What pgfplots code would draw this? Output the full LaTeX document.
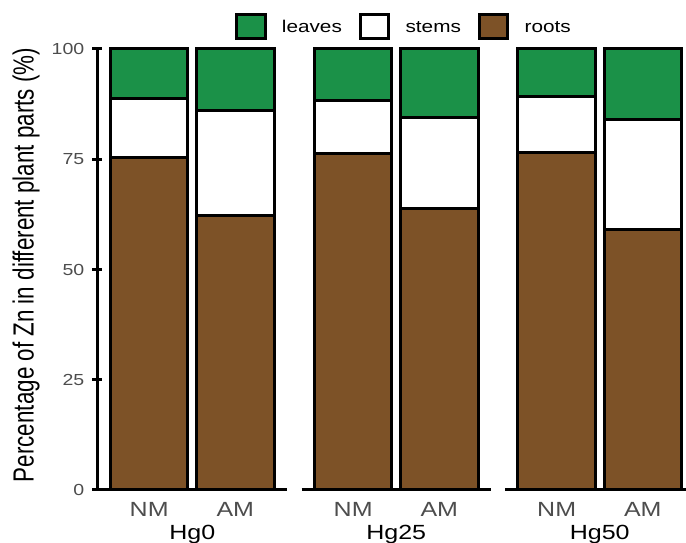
\documentclass[border=0pt]{standalone}
\usepackage{fontspec}
\setmainfont{Liberation Sans}
\newfontfamily\hfont[FakeStretch=1.22]{Liberation Sans}
\usepackage{pgfplots}
\pgfplotsset{compat=1.18}
\definecolor{leafg}{RGB}{27,145,72}
\definecolor{rootb}{RGB}{125,82,39}
\definecolor{tickgray}{RGB}{77,77,77}
\pgfplotsset{
  panel/.style={
    scale only axis, width=189.5pt, height=441pt,
    anchor=south west,
    ybar stacked, bar width=0.9,
    xmin=0.4, xmax=2.6, ymin=0, ymax=100,
    clip=false,
    xtick={1,2}, xticklabels={NM,AM},
    xtick style={draw=none},
    axis x line=bottom,
    tick align=outside, major tick length=10pt,
    ytick style={line width=3pt, black},
    every major tick/.append style={line width=3pt},
    xticklabel style={font=\hfont\fontsize{20.5}{20.5}\selectfont, text=tickgray, anchor=base, inner sep=0pt, yshift=-16.5pt},
    yticklabel style={font=\hfont\fontsize{16}{16}\selectfont, text=tickgray, anchor=east, inner sep=0pt},
    yticklabel shift=8pt,
    /pgf/number format/assume math mode=true,
    xlabel style={font=\hfont\fontsize{20.5}{20.5}\selectfont, at={(axis description cs:0.5,-0.1118)}, anchor=base, inner sep=0pt},
  },
  nolefty/.style={axis y line=none, ytick=\empty, linestyle},
  lefty/.style={axis y line=left, ytick={0,25,50,75,100}, linestyle},
  linestyle/.style={
    axis line style={line width=3pt,-},
    x axis line style={line width=3pt,-},
    y axis line style={line width=3pt,-},
    every outer x axis line/.append style={-},
    every outer y axis line/.append style={-},
  },
  bb/.style={draw=black, line width=3pt},
}
\begin{document}
\begin{tikzpicture}
\begin{axis}[panel, lefty, at={(97.5pt,53pt)}, xlabel={Hg0},
  reverse legend,
  legend columns=3,
  legend image code/.code={\draw[#1, line width=3pt] (0pt,-6.45pt) rectangle (28.4pt,17.65pt);},
  legend style={at={(1.612,1.0506)}, anchor=center, draw=none, fill=none,
    font=\hfont\fontsize{17}{17}\selectfont, inner sep=0pt,
    nodes={inner sep=0pt, anchor=base west},
    /tikz/every odd column/.append style={column sep=15.3pt},
    /tikz/every even column/.append style={column sep=17pt}},
]
\addplot[bb, fill=rootb] coordinates {(1,75.3) (2,62.2)};
\addplot[bb, fill=white] coordinates {(1,13.5) (2,23.8)};
\addplot[bb, fill=leafg] coordinates {(1,11.2) (2,14.0)};
\legend{roots,stems,leaves}
\end{axis}
\begin{axis}[panel, nolefty, at={(301.5pt,53pt)}, xlabel={Hg25}]
\addplot[bb, fill=rootb] coordinates {(1,76.2) (2,63.9)};
\addplot[bb, fill=white] coordinates {(1,12.2) (2,20.6)};
\addplot[bb, fill=leafg] coordinates {(1,11.6) (2,15.5)};
\end{axis}
\begin{axis}[panel, nolefty, at={(505pt,53pt)}, xlabel={Hg50}]
\addplot[bb, fill=rootb] coordinates {(1,76.6) (2,59.0)};
\addplot[bb, fill=white] coordinates {(1,12.7) (2,24.9)};
\addplot[bb, fill=leafg] coordinates {(1,10.7) (2,16.1)};
\end{axis}
\node[rotate=90, anchor=base, inner sep=0pt] at (33.5pt,278pt)
  {\scalebox{1}[1.3]{\fontsize{22.4}{22.4}\selectfont Percentage of Zn in different plant parts (\%)}};
\pgfresetboundingbox
\path[use as bounding box] (0pt,0pt) rectangle (686pt,543pt);
\end{tikzpicture}
\end{document}
